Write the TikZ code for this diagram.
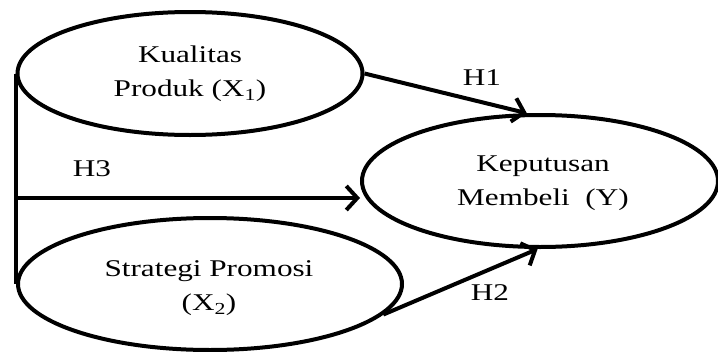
\documentclass[tikz,border=0pt]{standalone}
\usepackage{fontspec}
\setmainfont{Liberation Serif}[FakeStretch=1.3]
\usetikzlibrary{shapes.geometric,arrows.meta}

\begin{document}
\begin{tikzpicture}[x=1pt,y=-1pt,
	var/.style={draw, ellipse, line width=4pt, inner sep=0pt},
	txt/.style={align=center, font=\fontsize{24}{34}\selectfont},
	hyp/.style={line width=4pt, -{Straight Barb[length=11pt,width=24pt]}}]

	\useasboundingbox (0,0) rectangle (718,351);

	\node[var, minimum width=345pt, minimum height=123pt] (kualitas) at (190,73.5) {};
	\node[var, minimum width=384pt, minimum height=132pt] (promosi) at (210,284) {};
	\node[var, minimum width=356pt, minimum height=132pt] (keputusan) at (540,181) {};

	\node[txt] (tkualitas) at (190,74) {Kualitas\\Produk (X\textsubscript{1})};
	\node[txt] (tpromosi) at (209,288) {Strategi Promosi\\(X\textsubscript{2})};
	\node[txt] (tkeputusan) at (543,183) {Keputusan\\Membeli\ \ (Y)};

	\coordinate (h3start) at (18,198);
	\draw[line width=4pt] (kualitas.west) -- (kualitas.west |- promosi.west);
	\draw[hyp] (kualitas.east) -- (keputusan.101);
	\draw[hyp] (h3start) -- (h3start -| keputusan.west);
	\draw[hyp] (promosi.-10) -- (keputusan.-92);

	\node[txt] (h1) at (482,78) {H1};
	\node[txt] (h3) at (92,169) {H3};
	\node[txt] (h2) at (490,293) {H2};

\end{tikzpicture}
\end{document}
